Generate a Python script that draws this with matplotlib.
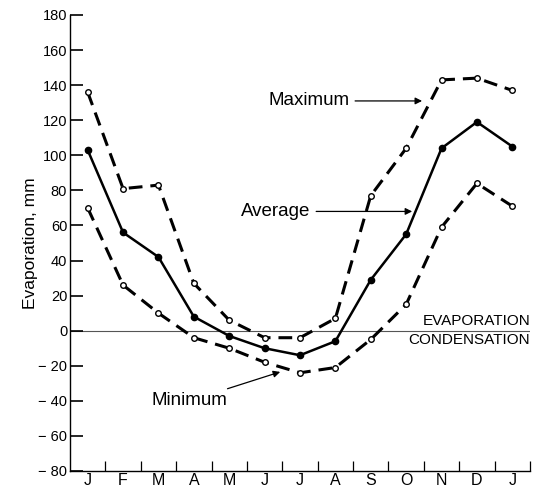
import matplotlib
matplotlib.use("Agg")
import matplotlib.pyplot as plt
import numpy as np

# monthly evaporation, mm (Jan .. Dec, then Jan again)
months = ["J", "F", "M", "A", "M", "J", "J", "A", "S", "O", "N", "D", "J"]
maximum = [136, 81, 83, 27, 6, -4, -4, 7, 77, 104, 143, 144, 137]
average = [103, 56, 42, 8, -3, -10, -14, -6, 29, 55, 104, 119, 105]
minimum = [70, 26, 10, -4, -10, -18, -24, -21, -5, 15, 59, 84, 71]
yticks = [-80, -60, -40, -20, 0, 20, 40, 60, 80, 100, 120, 140, 160, 180]

plt.rcParams["font.family"] = ["Liberation Sans", "DejaVu Sans"]

fig = plt.figure(figsize=(5.34, 4.92), dpi=100)
ax = fig.add_axes([70 / 534, 21 / 492, 460 / 534, 456 / 492])

x = np.arange(len(months)) + 0.5

dash = (0, (4.5, 2.6))
ax.axhline(0, color="#555555", lw=0.8, zorder=1)
ax.plot(x, maximum, color="black", lw=2.2, linestyle=dash, marker="o", ms=4,
        mfc="white", mec="black", mew=1.0, zorder=3)
ax.plot(x, minimum, color="black", lw=2.2, linestyle=dash, marker="o", ms=4,
        mfc="white", mec="black", mew=1.0, zorder=3)
ax.plot(x, average, color="black", lw=1.8, marker="o", ms=4.5,
        mfc="black", mec="black", zorder=3)

ax.set_xlim(0, 13)
ax.set_ylim(-80, 180)

for s in ["top", "right"]:
    ax.spines[s].set_visible(False)
for s in ["left", "bottom"]:
    ax.spines[s].set_linewidth(1.0)

ax.set_yticks(yticks)
ax.set_yticklabels([str(v).replace("-", "\u2212 ") for v in yticks])
ax.tick_params(axis="y", direction="in", length=9, width=1.2, labelsize=10.5, pad=2)

ax.set_xticks(x)
ax.set_xticklabels(months)
ax.set_xticks(np.arange(1, 14), minor=True)
ax.tick_params(axis="x", which="major", length=0, labelsize=11.5, pad=1.5)
ax.tick_params(axis="x", which="minor", direction="in", length=7, width=0.9)

ax.set_ylabel("Evaporation, mm", fontsize=12.5, labelpad=0)

arrow = dict(arrowstyle="-|>", color="black", lw=0.9, mutation_scale=10,
             shrinkA=2, shrinkB=0)
ax.annotate("Maximum", xy=(9.95, 131), xytext=(7.9, 131), ha="right", va="center",
            fontsize=13.5, arrowprops=arrow)
ax.annotate("Average", xy=(9.67, 68), xytext=(6.8, 68), ha="right", va="center",
            fontsize=13.5, arrowprops=arrow)
ax.annotate("Minimum", xy=(5.94, -23.5), xytext=(4.45, -40), ha="right", va="center",
            fontsize=13.5, arrowprops=arrow)

ax.text(13, 1.5, "EVAPORATION", ha="right", va="bottom", fontsize=11)
ax.text(13, -1.5, "CONDENSATION", ha="right", va="top", fontsize=11)

fig.savefig("out.png", dpi=100)
